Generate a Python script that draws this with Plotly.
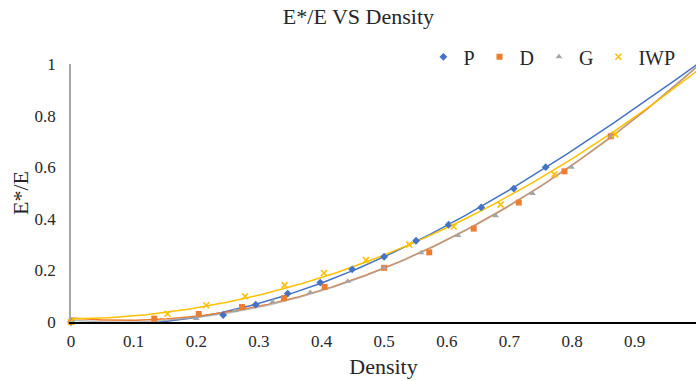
import numpy as np
import plotly.graph_objects as go

# ---- data (last point at density 1 sits on the right edge) ----
p_x = [0, 0.243, 0.295, 0.346, 0.398, 0.449, 0.50, 0.551, 0.603, 0.655, 0.707, 0.758, 1.0]
p_y = [0, 0.027, 0.067, 0.110, 0.153, 0.204, 0.253, 0.315, 0.377, 0.444, 0.517, 0.600, 1.0]

d_x = [0, 0.133, 0.204, 0.273, 0.340, 0.405, 0.50, 0.572, 0.643, 0.715, 0.788, 0.862, 1.0]
d_y = [0, 0.013, 0.031, 0.058, 0.092, 0.136, 0.210, 0.270, 0.362, 0.463, 0.584, 0.720, 1.0]

g_x = [0, 0.200, 0.262, 0.322, 0.382, 0.442, 0.50, 0.559, 0.618, 0.678, 0.737, 0.799, 0.862, 1.0]
g_y = [0, 0.014, 0.045, 0.078, 0.114, 0.158, 0.210, 0.268, 0.335, 0.412, 0.498, 0.600, 0.720, 1.0]

iwp_x = [0, 0.154, 0.216, 0.278, 0.341, 0.404, 0.471, 0.540, 0.611, 0.686, 0.772, 0.869, 1.0]
iwp_y = [0, 0.032, 0.065, 0.100, 0.143, 0.190, 0.240, 0.300, 0.370, 0.455, 0.572, 0.727, 1.0]

x_ticks = [0, 0.1, 0.2, 0.3, 0.4, 0.5, 0.6, 0.7, 0.8, 0.9]
x_tick_labels = ["0", "0.1", "0.2", "0.3", "0.4", "0.5", "0.6", "0.7", "0.8", "0.9"]
y_ticks = [0, 0.2, 0.4, 0.6, 0.8, 1]
y_tick_labels = ["0", "0.2", "0.4", "0.6", "0.8", "1"]

# name, x, y, colour, symbol, trendline opacity, trendline polynomial order
series = [
    ("P", p_x, p_y, "#4472C4", "diamond", 1.0, 3),
    ("D", d_x, d_y, "#ED7D31", "square", 1.0, 2),
    ("G", g_x, g_y, "#A5A5A5", "triangle-up", 0.7, 2),
    ("IWP", iwp_x, iwp_y, "#FFC000", "x-thin", 1.0, 2),
]

FONT = "Liberation Serif"
TXT = "#262626"
fig = go.Figure()

# polynomial trendlines, like Excel
xs = np.linspace(0, 1.0, 300)
for name, x, y, col, sym, op, order in series:
    c = np.polyfit(x, y, order)
    fig.add_trace(go.Scatter(x=xs, y=np.polyval(c, xs), mode="lines",
                             line=dict(color=col, width=1.5), opacity=op,
                             showlegend=False, hoverinfo="skip"))

for name, x, y, col, sym, op, order in series:
    if sym == "x-thin":
        marker = dict(symbol=sym, size=6, color=col, line=dict(color=col, width=1.6))
    else:
        marker = dict(symbol=sym, size=6, color=col, line=dict(width=0))
    fig.add_trace(go.Scatter(x=x, y=y, mode="markers", name=name,
                             marker=marker, cliponaxis=False))

fig.update_layout(
    width=696, height=381,
    margin=dict(l=71, r=0, t=64, b=59),
    paper_bgcolor="white", plot_bgcolor="white",
    font=dict(family=FONT, color=TXT, size=16),
    title=dict(text="E*/E VS Density", x=0.515, xanchor="center",
               y=1 - 16 / 381, yref="container", yanchor="middle",
               font=dict(size=22, family=FONT, color=TXT)),
    legend=dict(orientation="h", x=0.975, xanchor="right", y=1.028, yanchor="middle",
                font=dict(size=20, family=FONT, color=TXT),
                bgcolor="rgba(0,0,0,0)", itemwidth=30, tracegroupgap=0),
    showlegend=True,
)
fig.update_xaxes(range=[0, 0.998], tickvals=x_ticks, ticktext=x_tick_labels,
                 showgrid=False, zeroline=False, showline=True,
                 linecolor="black", linewidth=1.5, ticks="",
                 tickfont=dict(size=17, family=FONT, color=TXT),
                 ticklabelstandoff=3,
                 title=dict(text="Density", standoff=8,
                            font=dict(size=22, family=FONT, color=TXT)))
fig.update_yaxes(range=[0, 1], tickvals=y_ticks, ticktext=y_tick_labels,
                 showgrid=False, zeroline=False, showline=True,
                 linecolor="#A6A6A6", linewidth=1.5, ticks="",
                 tickfont=dict(size=17, family=FONT, color=TXT),
                 ticklabelstandoff=10,
                 title=dict(text="E*/E", standoff=0,
                            font=dict(size=22, family=FONT, color=TXT)))

fig.write_html("out.html")
